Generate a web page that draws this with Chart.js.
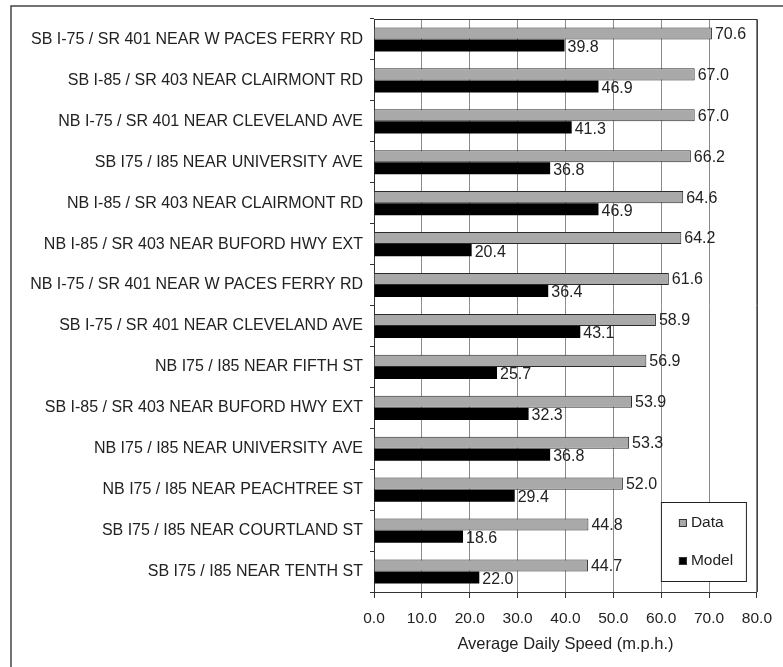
<!DOCTYPE html>
<html>
<head>
<meta charset="utf-8">
<script src="https://cdn.jsdelivr.net/npm/chart.js@4/dist/chart.umd.min.js"></script>
<style>
  html, body { margin: 0; padding: 0; background: #fff; }
  #wrap { width: 783px; height: 667px; }
</style>
</head>
<body>
<div id="wrap"><canvas id="c" width="783" height="667"></canvas></div>
<script>
// Monitoring locations, top to bottom
const locations = [
  "SB I-75 / SR 401 NEAR W PACES FERRY RD",
  "SB I-85 / SR 403 NEAR CLAIRMONT RD",
  "NB I-75 / SR 401 NEAR CLEVELAND AVE",
  "SB I75 / I85 NEAR UNIVERSITY AVE",
  "NB I-85 / SR 403 NEAR CLAIRMONT RD",
  "NB I-85 / SR 403 NEAR BUFORD HWY EXT",
  "NB I-75 / SR 401 NEAR W PACES FERRY RD",
  "SB I-75 / SR 401 NEAR CLEVELAND AVE",
  "NB I75 / I85 NEAR FIFTH ST",
  "SB I-85 / SR 403 NEAR BUFORD HWY EXT",
  "NB I75 / I85 NEAR UNIVERSITY AVE",
  "NB I75 / I85 NEAR PEACHTREE ST",
  "SB I75 / I85 NEAR COURTLAND ST",
  "SB I75 / I85 NEAR TENTH ST"
];

// Average daily speed (m.p.h.)
const observedSpeed = [70.6, 67.0, 67.0, 66.2, 64.6, 64.2, 61.6, 58.9, 56.9, 53.9, 53.3, 52.0, 44.8, 44.7];
const modelSpeed    = [39.8, 46.9, 41.3, 36.8, 46.9, 20.4, 36.4, 43.1, 25.7, 32.3, 36.8, 29.4, 18.6, 22.0];

const seriesNames = ["Data", "Model"];
const axisTitle = "Average Daily Speed (m.p.h.)";
const xMin = 0, xMax = 80, xStep = 10;

const FONT = "'Liberation Sans', Arial, sans-serif";
const TEXT = '#222';

// Outer frame around the figure
const framePlugin = {
  id: 'frame',
  beforeDraw(chart) {
    const ctx = chart.ctx;
    ctx.save();
    ctx.fillStyle = '#fff';
    ctx.fillRect(0, 0, chart.width, chart.height);
    ctx.strokeStyle = '#444';
    ctx.lineWidth = 1.5;
    ctx.beginPath();
    ctx.moveTo(11, chart.height);
    ctx.lineTo(11, 6);
    ctx.lineTo(chart.width, 6);
    ctx.stroke();
    ctx.restore();
  }
};

// Border of the plotting area (top and right)
const areaBorderPlugin = {
  id: 'areaBorder',
  afterDatasetsDraw(chart) {
    const a = chart.chartArea, ctx = chart.ctx;
    ctx.save();
    ctx.strokeStyle = '#333';
    ctx.lineWidth = 1;
    ctx.beginPath();
    ctx.moveTo(a.left, a.top + 0.5);
    ctx.lineTo(a.right + 0.5, a.top + 0.5);
    ctx.lineTo(a.right + 0.5, a.bottom);
    ctx.stroke();
    ctx.restore();
  }
};

// Value labels at the end of each bar
const valueLabelPlugin = {
  id: 'valueLabels',
  afterDatasetsDraw(chart) {
    const ctx = chart.ctx;
    ctx.save();
    ctx.font = '16px ' + FONT;
    ctx.fillStyle = TEXT;
    ctx.textAlign = 'left';
    ctx.textBaseline = 'middle';
    chart.data.datasets.forEach((ds, di) => {
      const meta = chart.getDatasetMeta(di);
      meta.data.forEach((bar, i) => {
        const v = ds.data[i];
        ctx.fillText(v.toFixed(1), bar.x + 3, bar.y + (di === 0 ? 1 : 2));
      });
    });
    ctx.restore();
  }
};

// Boxed legend inside the lower-right corner of the plot
const boxLegendPlugin = {
  id: 'boxLegend',
  afterDraw(chart) {
    const a = chart.chartArea, ctx = chart.ctx;
    const w = 85, h = 79;
    const x = a.right - 11 - w, y = a.bottom - 11 - h;
    ctx.save();
    ctx.fillStyle = '#fff';
    ctx.fillRect(x, y, w, h);
    ctx.strokeStyle = '#222';
    ctx.lineWidth = 1;
    ctx.strokeRect(x + 0.5, y + 0.5, w, h);
    ctx.font = '15.5px ' + FONT;
    ctx.textBaseline = 'middle';
    ctx.textAlign = 'left';
    chart.data.datasets.forEach((ds, i) => {
      const cy = y + 21 + i * 38;
      ctx.fillStyle = ds.backgroundColor;
      ctx.fillRect(x + 18, cy - 4, 8, 8);
      ctx.strokeStyle = '#333';
      ctx.strokeRect(x + 18.5, cy - 3.5, 7, 7);
      ctx.fillStyle = TEXT;
      ctx.fillText(ds.label, x + 30, cy);
    });
    ctx.restore();
  }
};

new Chart(document.getElementById('c'), {
  type: 'bar',
  data: {
    labels: locations,
    datasets: [
      {
        label: seriesNames[0],
        data: observedSpeed,
        backgroundColor: '#a9a9a9',
        borderColor: '#2a2a2a',
        borderWidth: 1,
        borderSkipped: 'start',
        categoryPercentage: 0.59,
        barPercentage: 1.0
      },
      {
        label: seriesNames[1],
        data: modelSpeed,
        backgroundColor: '#000000',
        borderColor: '#000000',
        borderWidth: 0,
        categoryPercentage: 0.59,
        barPercentage: 1.0
      }
    ]
  },
  options: {
    indexAxis: 'y',
    responsive: false,
    animation: false,
    devicePixelRatio: 1,
    layout: { padding: { top: 19, right: 24, left: 0, bottom: 13 } },
    plugins: {
      legend: { display: false },
      tooltip: { enabled: false }
    },
    scales: {
      x: {
        type: 'linear',
        min: xMin,
        max: xMax,
        ticks: {
          stepSize: xStep,
          color: TEXT,
          font: { family: FONT, size: 15.5 },
          padding: 11,
          callback: v => v.toFixed(1)
        },
        grid: {
          color: '#8a8a8a',
          lineWidth: 1,
          tickColor: '#333',
          tickLength: 6,
          drawOnChartArea: true
        },
        border: { display: true, color: '#333', width: 1 },
        title: {
          display: true,
          text: axisTitle,
          color: TEXT,
          font: { family: FONT, size: 16.5 },
          padding: { top: 0, bottom: 0 }
        },
        afterFit(scale) { scale.height = 62; }
      },
      y: {
        type: 'category',
        offset: true,
        ticks: {
          color: TEXT,
          font: { family: FONT, size: 16 },
          padding: 7,
          autoSkip: false
        },
        grid: {
          offset: true,
          drawOnChartArea: false,
          tickColor: '#333',
          tickLength: 4
        },
        border: { display: true, color: '#333', width: 1 },
        afterFit(scale) { scale.width = 374; }
      }
    }
  },
  plugins: [framePlugin, areaBorderPlugin, valueLabelPlugin, boxLegendPlugin]
});
</script>
</body>
</html>
